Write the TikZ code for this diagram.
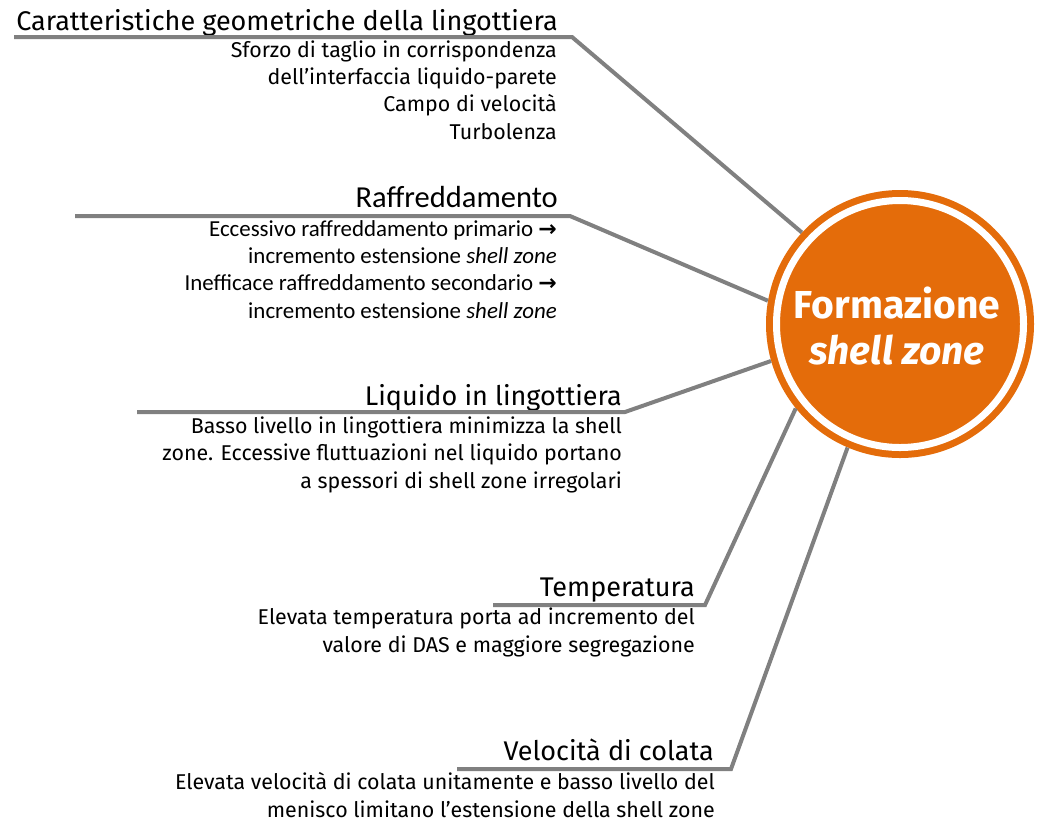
\documentclass[tikz,border=0pt]{standalone}
\usepackage{fontspec}
\setmainfont{Fira Sans}
\newfontfamily\calfont{Carlito}
\newfontfamily\symfont{DejaVu Sans}
\usetikzlibrary{positioning}
\definecolor{lineg}{RGB}{128,128,128}
\definecolor{shellor}{RGB}{228,108,10}
\newcommand{\toarr}{{\symfont\bfseries\fontsize{22}{27}\selectfont →}}

\begin{document}
\begin{tikzpicture}[x=1pt, y=-1pt,
  ln/.style={draw=lineg, line width=4pt, line join=miter},
  head/.style={anchor=base east, inner sep=0pt, font=\fontsize{27}{30}\selectfont},
  body/.style={anchor=base east, inner sep=0pt, align=right, font=\fontsize{21.4}{27.3}\selectfont}
]
\useasboundingbox (0,0) rectangle (1044,823);

% central disk
\node[circle, fill=shellor, minimum size=268pt, inner sep=0pt] (circ) at (900,324) {};
\draw[white, line width=7pt] (circ.center) circle[radius=123.5pt];
\node[text=white, align=center, inner sep=0pt, font=\fontsize{39}{46}\selectfont\bfseries] (ttl) at (897,326) {Formazione\\\textit{shell zone}};

% branch 1 (body nodes sit on their last baseline)
\node[head] (h1) at (558,30) {Caratteristiche geometriche della lingottiera};
\node[body] (b1) at (557,139) {Sforzo di taglio in corrispondenza\\dell’interfaccia liquido-parete\\Campo di velocità\\Turbolenza};
\coordinate (s1) at (14,37);
\coordinate (k1) at (572,37);
\draw[ln] (s1) -- (k1) -- (circ.137);

% branch 2
\node[head, font=\calfont\fontsize{30.5}{30}\selectfont] (h2) at (558,207) {Raffreddamento};
\node[body, font=\calfont\fontsize{22.9}{27.3}\selectfont] (b2) at (557,318) {Eccessivo raffreddamento primario \toarr\\incremento estensione \textit{shell zone}\\Inefficace raffreddamento secondario \toarr\\incremento estensione \textit{shell zone}};
\coordinate (s2) at (75,216);
\coordinate (k2) at (570,216);
\draw[ln] (s2) -- (k2) -- (circ.170);

% branch 3
\node[head] (h3) at (622,405) {Liquido in lingottiera};
\node[body] (b3) at (622,488) {Basso livello in lingottiera minimizza la shell\\zone. Eccessive fluttuazioni nel liquido portano\\a spessori di shell zone irregolari};
\coordinate (s3) at (137,412);
\coordinate (k3) at (625,412);
\draw[ln] (s3) -- (k3) -- (circ.196);

% branch 4
\node[head] (h4) at (695,596) {Temperatura};
\node[body] (b4) at (695,652) {Elevata temperatura porta ad incremento del\\valore di DAS e maggiore segregazione};
\coordinate (s4) at (493,605);
\coordinate (k4) at (705,605);
\draw[ln] (s4) -- (k4) -- (circ.219);

% branch 5
\node[head] (h5) at (714,760) {Velocità di colata};
\node[body] (b5) at (715,817) {Elevata velocità di colata unitamente e basso livello del\\menisco limitano l’estensione della shell zone};
\coordinate (s5) at (457,769);
\coordinate (k5) at (731,769);
\draw[ln] (s5) -- (k5) -- (circ.247);
\end{tikzpicture}
\end{document}
